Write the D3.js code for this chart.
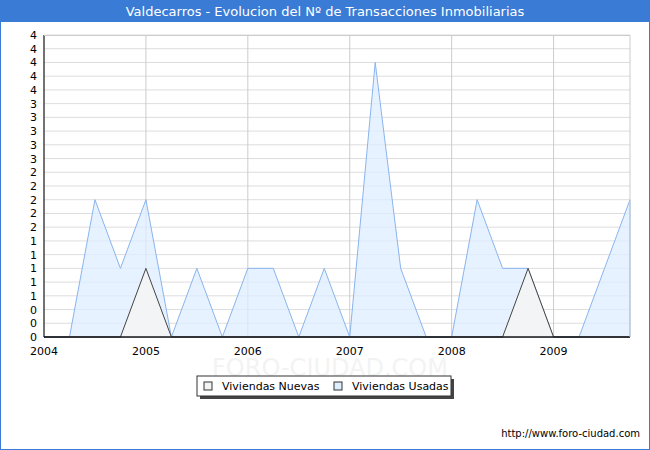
<!DOCTYPE html><html><head><meta charset="utf-8"><script src="https://cdn.jsdelivr.net/npm/d3@7"></script>
<style>body{margin:0}</style></head><body><svg id="c" width="650" height="450"></svg><script>
const quarters=d3.range(0,24).map(i=>2004+i*0.25);
const nuevas=[0,0,0,0,1,0,0,0,0,0,0,0,0,0,0,0,0,0,0,1,0,0,0,0];
const usadas=[0,0,2,1,2,0,1,0,1,1,0,1,0,4,1,0,0,2,1,1,0,0,1,2];
const yTicks=d3.range(0,23).map(i=>+(i*0.2).toFixed(1));
const years=[2004,2005,2006,2007,2008,2009];
const svg=d3.select("#c");
svg.append("rect").attr("x",0.5).attr("y",0.5).attr("width",649).attr("height",449).attr("fill","#fff").attr("stroke","#3a7bd5");
svg.append("rect").attr("x",0).attr("y",0).attr("width",650).attr("height",22).attr("fill","#3a7bd5");
svg.append("text").attr("x",325).attr("y",16).attr("text-anchor","middle").attr("fill","#fff").attr("font-family","Verdana, DejaVu Sans").attr("font-size",13).text("Valdecarros - Evolucion del Nº de Transacciones Inmobiliarias");
const x=d3.scaleLinear().domain([2004,2009.75]).range([44,630]);
const y=d3.scaleLinear().domain([0,4.4]).range([337,35]);
const g=svg.append("g");
const f="Verdana, DejaVu Sans";
svg.append("text").attr("x",330).attr("y",376).attr("text-anchor","middle").attr("font-family",f).attr("font-size",24).attr("fill","#f3f3f3").text("FORO-CIUDAD.COM");
yTicks.forEach(t=>g.append("line").attr("x1",44).attr("x2",630).attr("y1",y(t)).attr("y2",y(t)).attr("stroke","#ddd"));
years.forEach(t=>g.append("line").attr("x1",x(t)).attr("x2",x(t)).attr("y1",35).attr("y2",337).attr("stroke","#ccc"));
const area=d3.area().x((d,i)=>x(quarters[i])).y0(y(0)).y1(d=>y(d));
g.append("path").datum(usadas).attr("d",area).attr("fill","#ddeeff").attr("fill-opacity",0.75).attr("stroke","#8ab4ee");
g.append("path").datum(nuevas).attr("d",area).attr("fill","#f4f4f4").attr("fill-opacity",0.9).attr("stroke","#444");
g.append("path").attr("d",`M44,35V337H630`).attr("fill","none").attr("stroke","#000");
g.append("line").attr("x1",44).attr("x2",630).attr("y1",35.5).attr("y2",35.5).attr("stroke","#ccc");
g.append("line").attr("x1",630).attr("x2",630).attr("y1",35).attr("y2",337).attr("stroke","#ccc");
yTicks.forEach(t=>g.append("text").attr("x",37).attr("y",y(t)+4).attr("text-anchor","end").attr("font-family",f).attr("font-size",11).text(d3.format(".0f")(t)));
years.forEach(t=>g.append("text").attr("x",x(t)).attr("y",355).attr("text-anchor","middle").attr("font-family",f).attr("font-size",11).text(t));
const L=svg.append("g");
L.append("rect").attr("x",200).attr("y",379).attr("width",254).attr("height",20).attr("fill","#444");
L.append("rect").attr("x",197).attr("y",376).attr("width",254).attr("height",20).attr("fill","#fff").attr("stroke","#333");
[["Viviendas Nuevas","#f4f4f4",204],["Viviendas Usadas","#ddeeff",334]].forEach(([n,c,lx])=>{
L.append("rect").attr("x",lx).attr("y",382).attr("width",8).attr("height",8).attr("fill",c).attr("stroke","#333");
L.append("text").attr("x",lx+18).attr("y",390).attr("font-family",f).attr("font-size",11).text(n);});
svg.append("text").attr("x",640).attr("y",437).attr("text-anchor","end").attr("font-family",f).attr("font-size",10).text("http://www.foro-ciudad.com");
</script></body></html>
